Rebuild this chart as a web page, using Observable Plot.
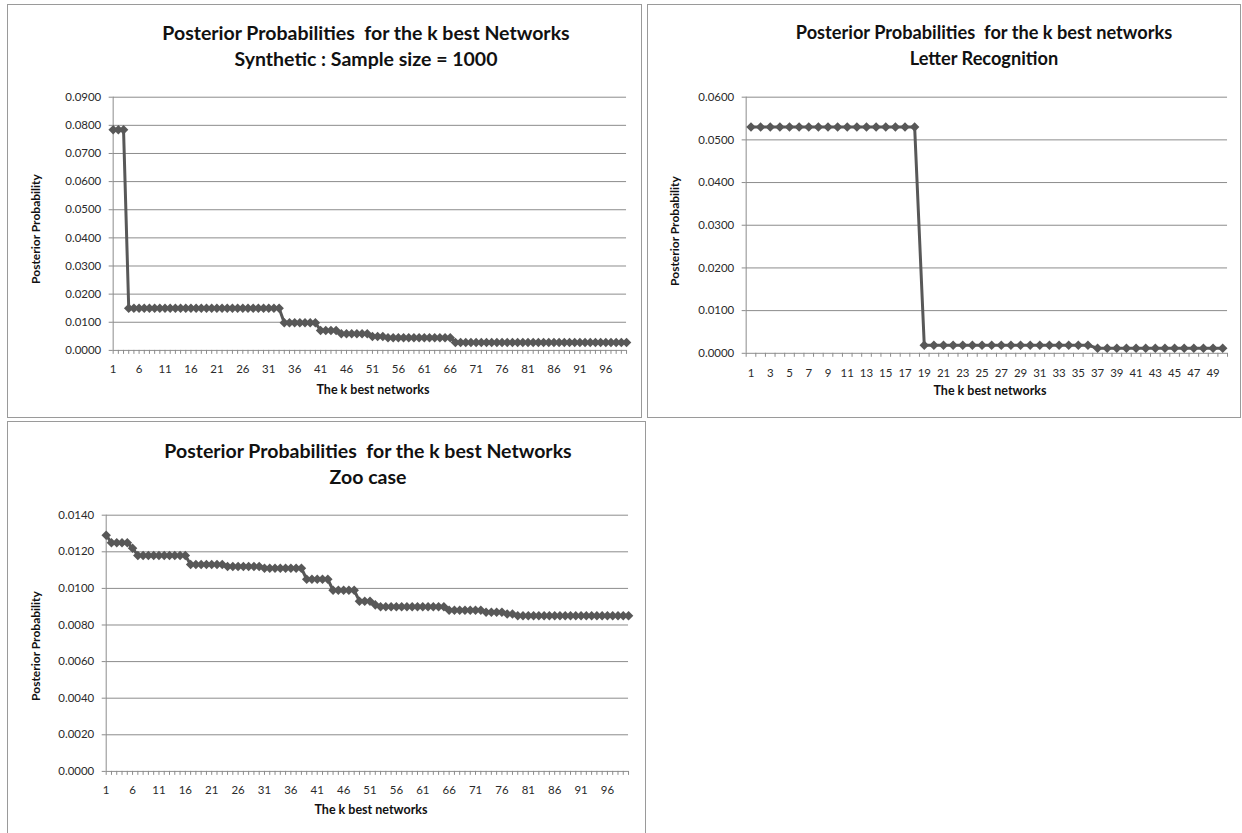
<!DOCTYPE html>
<html>
<head>
<meta charset="utf-8">
<script src="https://cdn.jsdelivr.net/npm/d3@7"></script>
<script src="https://cdn.jsdelivr.net/npm/@observablehq/plot@0.6"></script>
<style>
  html, body { margin: 0; padding: 0; background: #fff; }
  body { width: 1242px; height: 833px; position: relative; overflow: hidden; font-family: Lato, "Open Sans", sans-serif; }
  .panel { position: absolute; border: 1px solid #9a9a9a; box-sizing: border-box; background: #fff; overflow: hidden; }
  .panel svg { position: absolute; left: -1px; top: -1px; }
  .title { position: absolute; width: 600px; text-align: center; font-weight: bold; font-size: 19.5px; color: #111; white-space: pre; line-height: 1; }
  .ytitle { position: absolute; width: 200px; text-align: center; font-weight: bold; font-size: 12px; color: #111; transform: rotate(-90deg); transform-origin: center center; line-height: 1; }
  .xtitle { position: absolute; width: 300px; text-align: center; font-weight: bold; font-size: 12.5px; color: #111; line-height: 1; }
</style>
</head>
<body>
<script>
// ---------------- Data ----------------
// Synthetic : Sample size = 1000 (k = 1..100)
const synthValues = [
  0.0784, 0.0784, 0.0784,
  0.0150, 0.0150, 0.0150, 0.0150, 0.0150, 0.0150, 0.0150, 0.0150, 0.0150, 0.0150,
  0.0150, 0.0150, 0.0150, 0.0150, 0.0150, 0.0150, 0.0150, 0.0150, 0.0150, 0.0150,
  0.0150, 0.0150, 0.0150, 0.0150, 0.0150, 0.0150, 0.0150, 0.0150, 0.0150, 0.0150,
  0.0098, 0.0098, 0.0098, 0.0098, 0.0098, 0.0098, 0.0098,
  0.0071, 0.0071, 0.0071, 0.0071,
  0.0059, 0.0059, 0.0059, 0.0059, 0.0059, 0.0059,
  0.0049, 0.0049, 0.0049,
  0.0045, 0.0045, 0.0045, 0.0045, 0.0045, 0.0045, 0.0045, 0.0045, 0.0045, 0.0045, 0.0045, 0.0045, 0.0045,
  0.0028, 0.0028, 0.0028, 0.0028, 0.0028, 0.0028, 0.0028, 0.0028, 0.0028, 0.0028,
  0.0028, 0.0028, 0.0028, 0.0028, 0.0028, 0.0028, 0.0028, 0.0028, 0.0028, 0.0028,
  0.0028, 0.0028, 0.0028, 0.0028, 0.0028, 0.0028, 0.0028, 0.0028, 0.0028, 0.0028,
  0.0028, 0.0028, 0.0028, 0.0028
];
// Letter Recognition (k = 1..50)
const letterValues = [
  0.0530, 0.0530, 0.0530, 0.0530, 0.0530, 0.0530, 0.0530, 0.0530, 0.0530,
  0.0530, 0.0530, 0.0530, 0.0530, 0.0530, 0.0530, 0.0530, 0.0530, 0.0530,
  0.0019, 0.0019, 0.0019, 0.0019, 0.0019, 0.0019, 0.0019, 0.0019, 0.0019,
  0.0019, 0.0019, 0.0019, 0.0019, 0.0019, 0.0019, 0.0019, 0.0019, 0.0019,
  0.0012, 0.0012, 0.0012, 0.0012, 0.0012, 0.0012, 0.0012,
  0.0012, 0.0012, 0.0012, 0.0012, 0.0012, 0.0012, 0.0012
];
// Zoo case (k = 1..100)
const zooValues = [
  0.0129,
  0.0125, 0.0125, 0.0125, 0.0125,
  0.0122,
  0.0118, 0.0118, 0.0118, 0.0118, 0.0118, 0.0118, 0.0118, 0.0118, 0.0118, 0.0118,
  0.0113, 0.0113, 0.0113, 0.0113, 0.0113, 0.0113, 0.0113,
  0.0112, 0.0112, 0.0112, 0.0112, 0.0112, 0.0112, 0.0112,
  0.0111, 0.0111, 0.0111, 0.0111, 0.0111, 0.0111, 0.0111, 0.0111,
  0.0105, 0.0105, 0.0105, 0.0105, 0.0105,
  0.0099, 0.0099, 0.0099, 0.0099, 0.0099,
  0.0093, 0.0093, 0.0093,
  0.0091,
  0.0090, 0.0090, 0.0090, 0.0090, 0.0090, 0.0090, 0.0090, 0.0090, 0.0090, 0.0090, 0.0090, 0.0090, 0.0090,
  0.0088, 0.0088, 0.0088, 0.0088, 0.0088, 0.0088, 0.0088,
  0.0087, 0.0087, 0.0087, 0.0087,
  0.0086, 0.0086,
  0.0085, 0.0085, 0.0085, 0.0085, 0.0085, 0.0085, 0.0085, 0.0085, 0.0085, 0.0085, 0.0085,
  0.0085, 0.0085, 0.0085, 0.0085, 0.0085, 0.0085, 0.0085, 0.0085, 0.0085, 0.0085, 0.0085
];

// Tick labels
const synthXLabels = [1, 6, 11, 16, 21, 26, 31, 36, 41, 46, 51, 56, 61, 66, 71, 76, 81, 86, 91, 96];
const letterXLabels = [1, 3, 5, 7, 9, 11, 13, 15, 17, 19, 21, 23, 25, 27, 29, 31, 33, 35, 37, 39, 41, 43, 45, 47, 49];
const zooXLabels = [1, 6, 11, 16, 21, 26, 31, 36, 41, 46, 51, 56, 61, 66, 71, 76, 81, 86, 91, 96];
const synthYTicks = [0, 0.01, 0.02, 0.03, 0.04, 0.05, 0.06, 0.07, 0.08, 0.09];
const letterYTicks = [0, 0.01, 0.02, 0.03, 0.04, 0.05, 0.06];
const zooYTicks = [0, 0.002, 0.004, 0.006, 0.008, 0.010, 0.012, 0.014];

const titleMain1 = "Posterior Probabilities  for the k best Networks";
const titleMain2 = "Posterior Probabilities  for the k best networks";
const synthSub = "Synthetic : Sample size = 1000";
const letterSub = "Letter Recognition";
const zooSub = "Zoo case";
const yTitle = "Posterior Probability";
const xTitle = "The k best networks";

// ---------------- Styling ----------------
const LINE = "#585858";
const GRID = "#8c8c8c";
const TEXT = "#2a2a2a";

function makePanel(cfg) {
  const div = document.createElement("div");
  div.className = "panel";
  div.style.left = cfg.box.left + "px";
  div.style.top = cfg.box.top + "px";
  div.style.width = cfg.box.width + "px";
  div.style.height = cfg.box.height + "px";
  document.body.appendChild(div);

  const data = cfg.values.map((p, i) => ({k: i + 1, p}));
  const pl = cfg.plot; // plot area in page coordinates
  const W = cfg.box.width, H = cfg.box.height;
  const mL = pl.left - cfg.box.left, mR = cfg.box.left + W - pl.right;
  const mT = pl.top - cfg.box.top, mB = cfg.box.top + H - pl.bottom;

  const svg = Plot.plot({
    width: W, height: H,
    marginLeft: mL, marginRight: mR, marginTop: mT, marginBottom: mB,
    x: {domain: cfg.xDomain},
    y: {domain: [cfg.yTicks[0], cfg.yTicks[cfg.yTicks.length - 1]]},
    style: {fontFamily: "Lato, 'Open Sans', sans-serif", fontSize: "11.5px", color: TEXT, background: "transparent", overflow: "visible"},
    marks: [
      Plot.ruleY(cfg.yTicks, {stroke: GRID, strokeWidth: 1}),
      Plot.axisY(cfg.yTicks, {tickFormat: d3.format(".4f"), tickSize: 4, tickPadding: 8, stroke: GRID, fill: TEXT, label: null}),
      Plot.ruleX([cfg.xDomain[0]], {stroke: GRID, strokeWidth: 1}),
      Plot.axisX(cfg.xMinorTicks, {tickSize: 4, tickFormat: () => "", stroke: GRID, label: null}),
      Plot.axisX(cfg.xLabels, {tickSize: 0, tickPadding: cfg.xLabelPad, fill: TEXT, label: null}),
      Plot.line(data, {x: "k", y: "p", stroke: LINE, strokeWidth: 3}),
      Plot.dot(data, {x: "k", y: "p", symbol: "diamond2", r: 4.3, fill: LINE, stroke: "none"})
    ]
  });
  div.appendChild(svg);

  const cx = cfg.titleCenter - cfg.box.left;
  const t1 = document.createElement("div");
  t1.className = "title"; t1.textContent = cfg.title1;
  t1.style.fontSize = cfg.titleSize + "px";
  t1.style.left = (cx - 300) + "px"; t1.style.top = (cfg.title1Y - cfg.box.top - 10) + "px";
  div.appendChild(t1);
  const t2 = document.createElement("div");
  t2.className = "title"; t2.textContent = cfg.title2;
  t2.style.fontSize = cfg.titleSize + "px";
  t2.style.left = (cx - 300) + "px"; t2.style.top = (cfg.title2Y - cfg.box.top - 10) + "px";
  div.appendChild(t2);

  const yt = document.createElement("div");
  yt.className = "ytitle"; yt.textContent = yTitle;
  yt.style.left = (cfg.yTitle.x - cfg.box.left - 100) + "px";
  yt.style.top = (cfg.yTitle.y - cfg.box.top - 6) + "px";
  div.appendChild(yt);

  const xt = document.createElement("div");
  xt.className = "xtitle"; xt.textContent = xTitle;
  xt.style.left = (cfg.xTitle.x - cfg.box.left - 150) + "px";
  xt.style.top = (cfg.xTitle.y - cfg.box.top - 7) + "px";
  div.appendChild(xt);
}

makePanel({
  box: {left: 7, top: 4, width: 635, height: 414},
  plot: {left: 113, right: 628, top: 97, bottom: 351},
  values: synthValues,
  xDomain: [1, 100],
  xMinorTicks: d3.range(1, 101),
  xLabels: synthXLabels,
  xLabelPad: 15,
  yTicks: synthYTicks,
  title1: titleMain1, title2: synthSub, titleCenter: 365, title1Y: 32, title2Y: 58, titleSize: 19.5,
  yTitle: {x: 35, y: 228}, xTitle: {x: 372, y: 390}
});

makePanel({
  box: {left: 647, top: 4, width: 594, height: 414},
  plot: {left: 746, right: 1229, top: 97, bottom: 354},
  values: letterValues,
  xDomain: [0.5, 50.5],
  xMinorTicks: d3.range(0.5, 51, 1),
  xLabels: letterXLabels,
  xLabelPad: 16,
  yTicks: letterYTicks,
  title1: titleMain2, title2: letterSub, titleCenter: 983, title1Y: 32, title2Y: 58, titleSize: 18.2,
  yTitle: {x: 674, y: 230}, xTitle: {x: 989, y: 391}
});

makePanel({
  box: {left: 7, top: 421, width: 639, height: 416},
  plot: {left: 106, right: 630, top: 515, bottom: 772},
  values: zooValues,
  xDomain: [1, 100],
  xMinorTicks: d3.range(1, 101),
  xLabels: zooXLabels,
  xLabelPad: 15,
  yTicks: zooYTicks,
  title1: titleMain1, title2: zooSub, titleCenter: 367, title1Y: 450, title2Y: 476, titleSize: 19.5,
  yTitle: {x: 35, y: 645}, xTitle: {x: 370, y: 810}
});
</script>
</body>
</html>
